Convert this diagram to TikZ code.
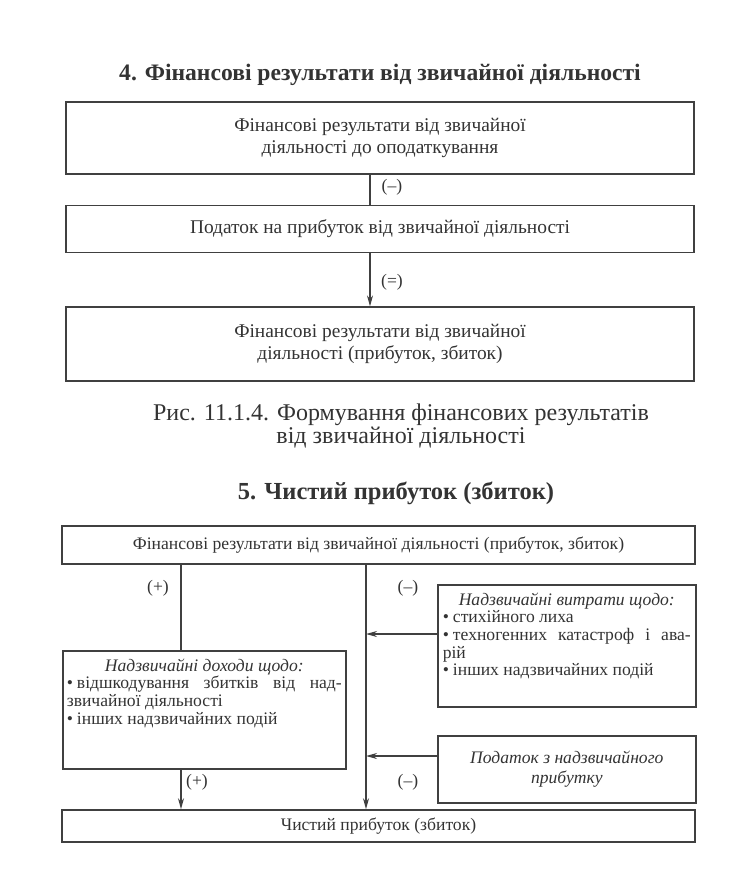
\documentclass[tikz,border=0pt]{standalone}
\usepackage{fontspec}
\setmainfont{Liberation Serif}
\usepackage{tikz}
\usetikzlibrary{arrows.meta,positioning,calc}

\begin{document}
\begin{tikzpicture}[
  x=1pt, y=-1pt,
  every node/.style={text=black!80},
  big/.style={font=\fontsize{19.4}{21.5}\selectfont},
  small/.style={font=\fontsize{17.6}{17.6}\selectfont},
  box/.style={
    draw=black!75,
    line width=1.6pt,
    align=center,
    inner sep=0pt,
    minimum width=#1
  },
  box/.default=628pt,
  title/.style={font=\fontsize{23.6}{26}\selectfont\bfseries},
  sign/.style={small},
  arr/.style={
    -{Stealth[length=11pt, width=6pt]},
    line width=1.2pt,
    draw=black!75
  },
  lin/.style={line width=1.2pt, draw=black!75}
]
  \useasboundingbox (0,0) rectangle (754,869);

  % 4. result before and after tax
  \node[title] (head4) at (380,75) {4. Фінансові результати від звичайної діяльності};
  \node[box, big, minimum height=72pt] (pretax) at (380,138)
    {Фінансові результати від звичайної\\діяльності до оподаткування};
  \node[box, big, minimum height=47pt, below=30pt of pretax] (tax)
    {Податок на прибуток від звичайної діяльності};
  \node[box, big, minimum height=74pt, below=53pt of tax] (ordres)
    {Фінансові результати від звичайної\\діяльності (прибуток, збиток)};

  \coordinate (spine) at (370,0);
  \draw[lin] (pretax.south -| spine) -- (tax.north -| spine);
  \draw[arr] (tax.south -| spine) -- (ordres.north -| spine);
  \node[sign] at (392,187) {(--)};
  \node[sign] at (392,282) {(=)};

  \node[align=center, font=\fontsize{24}{23}\selectfont] (caption) at (401,426)
    {Рис. 11.1.4. Формування фінансових результатів\\від звичайної діяльності};

  % 5. net profit
  \node[title, font=\fontsize{24.5}{26}\selectfont\bfseries] (head5) at (396,493)
    {5. Чистий прибуток (збиток)};
  \node[box=633pt, small, minimum height=38pt] (ordres2) at (378.5,545)
    {Фінансові результати від звичайної діяльності (прибуток, збиток)};
  \node[box=258pt, small, minimum height=122pt, anchor=north west] (loss) at (437,584)
    {\begin{minipage}[t][116pt][t]{248pt}\vspace*{5pt}\centering
     \textit{Надзвичайні витрати щодо:}\\
     \raggedright
     •\kern4pt стихійного лиха\\
     \makebox[\linewidth][s]{•\kern4pt техногенних катастроф і ава-}\\
     рій\\
     •\kern4pt інших надзвичайних подій
     \end{minipage}};
  \node[box=283pt, small, minimum height=118pt, anchor=north west] (income) at (62,650)
    {\begin{minipage}[t][112pt][t]{275pt}\vspace*{5pt}\centering
     \textit{Надзвичайні доходи щодо:}\\
     \raggedright
     \makebox[\linewidth][s]{•\kern4pt відшкодування збитків від над-}\\
     звичайної діяльності\\
     •\kern4pt інших надзвичайних подій
     \end{minipage}};
  \node[box=258pt, small, minimum height=67pt, anchor=north west, font=\fontsize{17.6}{20}\selectfont\itshape]
    (extax) at (437,735) {Податок з надзвичайного\\прибутку};
  \node[box=633pt, small, minimum height=32pt] (net) at (378.5,826)
    {Чистий прибуток (збиток)};

  \coordinate (plus) at (181,0);
  \coordinate (minus) at (366,0);
  \draw[lin] (ordres2.south -| plus) -- (income.north -| plus);
  \draw[arr] (income.south -| plus) -- (net.north -| plus);
  \draw[arr] (ordres2.south -| minus) -- (net.north -| minus);
  \draw[arr] ([yshift=-50pt]loss.north west) -- ([yshift=-50pt]loss.north west -| minus);
  \draw[arr] ([yshift=-21pt]extax.north west) -- ([yshift=-21pt]extax.north west -| minus);

  \node[sign] at (158,588) {(+)};
  \node[sign] at (408,588) {(--)};
  \node[sign] at (197,782) {(+)};
  \node[sign] at (408,782) {(--)};
\end{tikzpicture}
\end{document}
